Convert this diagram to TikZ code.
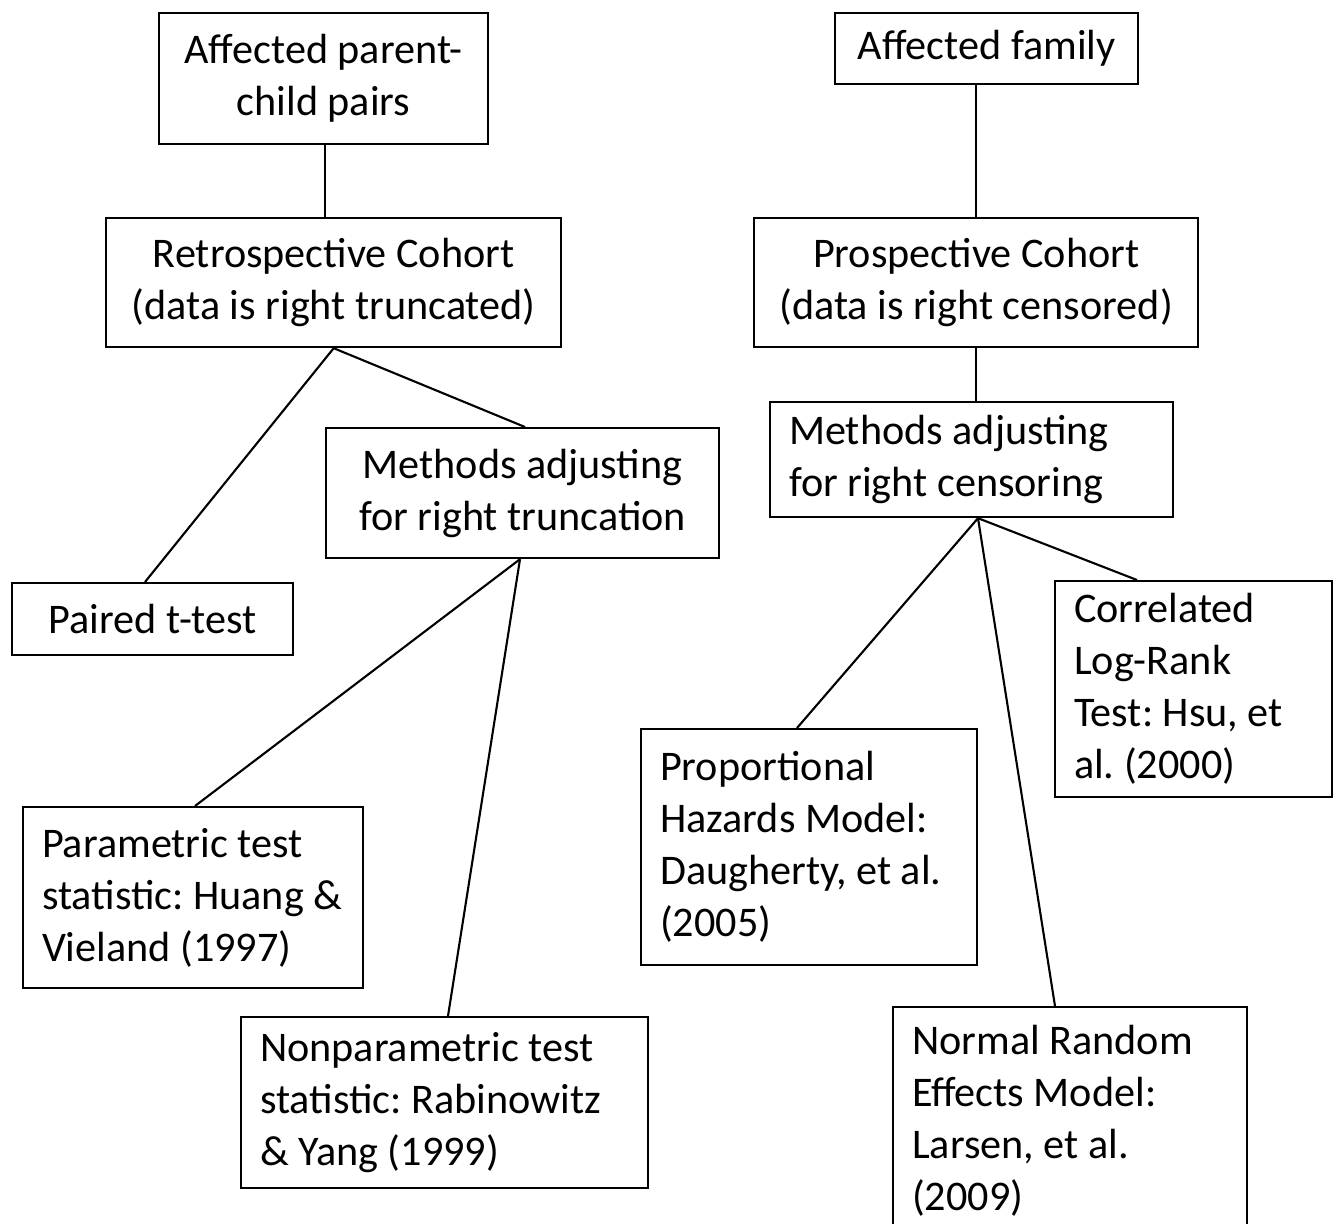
\documentclass[tikz,border=0pt]{standalone}
\usepackage{fontspec}
\setmainfont{Carlito}
\usetikzlibrary{calc}
\begin{document}
\begin{tikzpicture}[x=0.01cm,y=-0.01cm,
 box/.style={draw, line width=0.6pt, inner sep=0pt, font=\fontsize{12}{14.8}\selectfont, anchor=north west},
 cbox/.style={box, align=center},
 lbox/.style={box, align=flush left, inner xsep=0.19cm},
 conn/.style={line width=0.6pt}]
\clip (0,0) rectangle (1336,1224);
\node[cbox, minimum width=3.29cm, minimum height=1.31cm] (a) at (158,12) {Affected parent-\\child pairs};
\node[cbox, minimum width=3.03cm, minimum height=0.71cm] (b) at (834,12) {Affected family};
\node[cbox, minimum width=4.55cm, minimum height=1.29cm] (c) at (105,217) {Retrospective Cohort\\(data is right truncated)};
\node[cbox, minimum width=4.44cm, minimum height=1.29cm] (d) at (753,217) {Prospective Cohort\\(data is right censored)};
\node[cbox, minimum width=3.93cm, minimum height=1.30cm] (e) at (325,427) {Methods adjusting\\for right truncation};
\node[lbox, text width=3.65cm, minimum height=1.15cm] (f) at (769,401) {Methods~adjusting\\for~right~censoring};
\node[cbox, minimum width=2.81cm, minimum height=0.72cm] (g) at (11,582) {Paired t-test};
\node[lbox, text width=3.02cm, minimum height=1.81cm] (h) at (22,806) {Parametric~test\\statistic:~Huang~\&\\Vieland~(1997)};
\node[lbox, text width=3.69cm, minimum height=1.71cm] (i) at (240,1016) {Nonparametric~test\\statistic:~Rabinowitz\\\&~Yang~(1999)};
\node[lbox, text width=2.98cm, minimum height=2.36cm] (j) at (640,728) {Proportional\\Hazards~Model:\\Daugherty,~et~al.\\(2005)};
\node[lbox, text width=2.39cm, minimum height=2.16cm] (k) at (1054,580) {Correlated\\Log-Rank\\Test:~Hsu,~et\\al.~(2000)};
\node[lbox, text width=3.16cm, minimum height=2.28cm] (l) at (892,1006) {Normal~Random\\Effects~Model:\\Larsen,~et~al.\\(2009)};
\draw[conn] ($(a.south west)+(167,0)$) -- ($(c.north west)+(220,0)$);
\draw[conn] ($(b.south west)+(142,0)$) -- ($(d.north west)+(223,0)$);
\draw[conn] (c.south) -- ($(g.north west)+(134,0)$);
\draw[conn] (c.south) -- ($(e.north west)+(200,0)$);
\draw[conn] ($(e.south west)+(195,0)$) -- ($(h.north west)+(173,0)$);
\draw[conn] ($(e.south west)+(195,0)$) -- ($(i.north west)+(208,0)$);
\draw[conn] ($(d.south west)+(223,0)$) -- ($(f.north west)+(207,0)$);
\draw[conn] ($(f.south west)+(209,0)$) -- ($(j.north west)+(157,0)$);
\draw[conn] ($(f.south west)+(209,0)$) -- ($(l.north west)+(163,0)$);
\draw[conn] ($(f.south west)+(209,0)$) -- ($(k.north west)+(83,0)$);
\end{tikzpicture}
\end{document}
